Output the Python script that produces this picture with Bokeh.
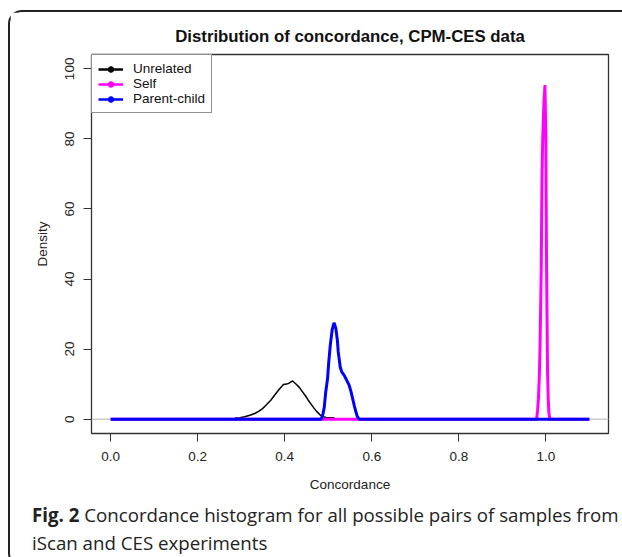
from bokeh.plotting import figure
from bokeh.layouts import column
from bokeh.models import (Range1d, FixedTicker, Span, Legend, LegendItem, Div,
                          NumeralTickFormatter)
from bokeh.embed import file_html
from bokeh.resources import INLINE

# ---- data ----
x_unrel = [0.286, 0.297, 0.308, 0.320, 0.331, 0.340, 0.349, 0.358, 0.368, 0.377,
           0.386, 0.397, 0.404, 0.409, 0.418, 0.427, 0.434, 0.441, 0.448, 0.454,
           0.461, 0.468, 0.475, 0.482, 0.489, 0.495, 0.505, 0.514]
y_unrel = [0.3, 0.4, 0.7, 1.1, 1.6, 2.2, 3.0, 4.1, 5.4, 6.9,
           8.3, 9.9, 10.0, 10.2, 10.9, 9.9, 9.0, 7.8, 6.6, 5.4,
           4.2, 3.0, 2.0, 1.1, 0.7, 0.5, 0.4, 0.4]

x_self = [0.0, 0.979, 0.981, 0.983, 0.985, 0.9865, 0.988, 0.9895, 0.991, 0.992,
          0.993, 0.9945, 0.9955, 0.997, 0.998, 0.999, 1.000, 1.0015, 1.003, 1.004,
          1.0055, 1.007, 1.009, 1.1]
y_self = [0.0, 0.0, 2.5, 5.7, 12.0, 19.4, 31.0, 43.6, 67.2, 75.0,
          80.5, 86.0, 90.0, 93.0, 95.4, 88.0, 81.5, 46.4, 26.0, 13.3,
          6.0, 1.9, 0.0, 0.0]

x_pc = [0.0, 0.484, 0.488, 0.491, 0.494, 0.4985, 0.501, 0.5046, 0.509, 0.512,
        0.5137, 0.5176, 0.521, 0.523, 0.5275, 0.531, 0.5367, 0.542, 0.548, 0.552,
        0.556, 0.560, 0.5635, 0.567, 0.571, 1.1]
y_pc = [0.0, 0.0, 1.5, 3.5, 7.5, 11.6, 16.0, 21.0, 25.5, 27.0,
        27.5, 25.8, 22.5, 19.2, 14.9, 13.5, 12.5, 11.2, 9.7, 8.0,
        5.9, 3.8, 2.1, 0.7, 0.0, 0.0]

series_labels = ["Unrelated", "Self", "Parent-child"]
series_colors = ["#000000", "#FF00FF", "#0000FF"]

x_ticks = [0.0, 0.2, 0.4, 0.6, 0.8, 1.0]
x_tick_labels = ["0.0", "0.2", "0.4", "0.6", "0.8", "1.0"]
y_ticks = [0, 20, 40, 60, 80, 100]
y_tick_labels = ["0", "20", "40", "60", "80", "100"]

title_text = "Distribution of concordance, CPM-CES data"
x_label = "Concordance"
y_label = "Density"
caption_bold = "Fig. 2"
caption_line1 = "Concordance histogram for all possible pairs of samples from"
caption_line2 = "iScan and CES experiments"

FONT = "Liberation Sans"
CAP_FONT = "Open Sans"

p = figure(width=612, height=482, output_backend="svg", toolbar_location=None,
           x_range=Range1d(-0.044, 1.144), y_range=Range1d(-4.1, 104.1),
           min_border_left=81, min_border_right=14, min_border_top=42,
           min_border_bottom=59, title=title_text)
p.xgrid.visible = False
p.ygrid.visible = False
p.background_fill_color = "white"
p.border_fill_color = "white"
p.outline_line_color = "#333333"
p.outline_line_width = 1.3

p.title.align = "center"
p.title.text_font = FONT
p.title.text_font_style = "bold"
p.title.text_font_size = "16.8px"
p.title.text_color = "#111111"
p.title.standoff = 17

zero = Span(location=0, dimension="width", line_color="#CCCCCC", line_width=1.5,
            level="underlay")
p.add_layout(zero)

p.line(x_unrel, y_unrel, line_color=series_colors[0], line_width=1.5)
p.line(x_self, y_self, line_color=series_colors[1], line_width=3)
p.line(x_pc, y_pc, line_color=series_colors[2], line_width=3)

items = []
for lab, col in zip(series_labels, series_colors):
    # off-screen stand-ins used only to draw the legend glyphs (line + dot)
    lr = p.line(x=[-10, -9], y=[-10, -10], line_color=col, line_width=2.5)
    sr = p.scatter(x=[-10], y=[-10], marker="circle", size=5, fill_color=col,
                   line_color=col)
    items.append(LegendItem(label=lab, renderers=[lr, sr]))
legend = Legend(items=items, location="top_left", margin=0, padding=6, spacing=0,
                glyph_width=25, glyph_height=14, label_height=14, label_standoff=10,
                label_text_font=FONT, label_text_font_size="13.5px",
                label_text_color="#111111", border_line_color="#222222",
                border_line_width=1, background_fill_color="white",
                background_fill_alpha=1.0)
p.add_layout(legend)

for ax in (p.xaxis[0], p.yaxis[0]):
    ax.axis_line_color = "#333333"
    ax.axis_line_width = 1
    ax.major_tick_line_color = "#333333"
    ax.major_tick_line_width = 1
    ax.major_tick_out = 8
    ax.major_tick_in = 0
    ax.minor_tick_line_color = None
    ax.major_label_text_font = FONT
    ax.major_label_text_font_size = "13.5px"
    ax.major_label_text_color = "#222222"
    ax.axis_label_text_font = FONT
    ax.axis_label_text_font_size = "13.5px"
    ax.axis_label_text_font_style = "normal"
    ax.axis_label_text_color = "#222222"

p.xaxis.ticker = FixedTicker(ticks=x_ticks)
p.xaxis.formatter = NumeralTickFormatter(format="0.0")
p.xaxis.major_label_overrides = dict(zip(x_ticks, x_tick_labels))
p.xaxis.bounds = (x_ticks[0], x_ticks[-1])
p.xaxis.major_label_standoff = 10
p.xaxis.axis_label = x_label
p.xaxis.axis_label_standoff = 13

p.yaxis.ticker = FixedTicker(ticks=y_ticks)
p.yaxis.formatter = NumeralTickFormatter(format="0")
p.yaxis.major_label_overrides = dict(zip(y_ticks, y_tick_labels))
p.yaxis.bounds = (y_ticks[0], y_ticks[-1])
p.yaxis.major_label_orientation = "vertical"
p.yaxis.major_label_standoff = 9
p.yaxis.axis_label = y_label
p.yaxis.axis_label_standoff = 13

cap_html = (
    '<div style="font-family:\'%s\', sans-serif; font-size:18.7px; line-height:28px; '
    'color:#222222; padding:2px 0 0 17px; white-space:nowrap;">'
    '<b>%s</b> %s<br>%s</div>' % (CAP_FONT, caption_bold, caption_line1, caption_line2)
)
cap = Div(text=cap_html, width=612, height=61)

layout = column(p, cap, spacing=0, margin=(10, 0, 0, 8),
                styles={"border-left": "2px solid #222222",
                        "border-top": "2px solid #222222",
                        "border-bottom": "2px solid #222222",
                        "border-top-left-radius": "14px",
                        "border-bottom-left-radius": "14px"})

open("out.html", "w").write(file_html(layout, INLINE))
